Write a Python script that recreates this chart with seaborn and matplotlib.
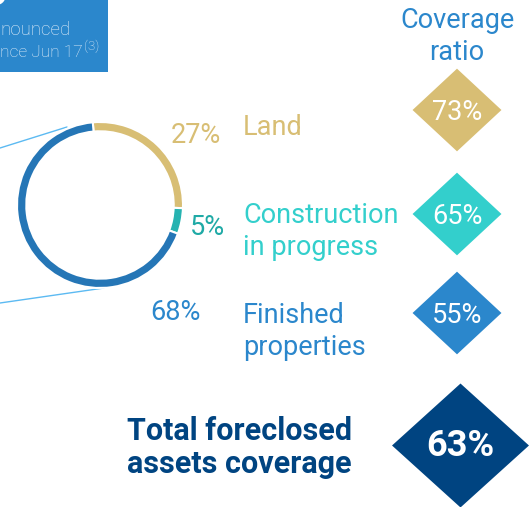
#%%
import numpy as np
import pandas as pd
import matplotlib
matplotlib.use("Agg")
import matplotlib.pyplot as plt
from matplotlib.patches import Rectangle
import seaborn as sns

sns.set_theme(style="white")
plt.rcParams['font.family'] = ['Roboto', 'DejaVu Sans']

#----------------------------------------
# dados
categories = ['Land', 'Construction\nin progress', 'Finished\nproperties']
shares = [27, 5, 68]          # % do total de ativos
coverage = [73, 65, 55]       # coverage ratio por tipo
total_label = ['Total foreclosed', 'assets coverage']
total_coverage = 63
header_lines = ['nounced', 'nce Jun 17']
header_note = '(3)'
coverage_title = ['Coverage', 'ratio']

ring_colors = ['#D8BE74', '#26B3B1', '#2576B6']
share_colors = ['#D8BE74', '#1FAAA6', '#2B87CC']
label_colors = ['#D8BE74', '#33CFCC', '#2B87CC']
blue = '#2B87CC'
navy = '#004481'

#----------------------------------------
# figura em coordenadas de pixel
W, H = 531, 507
fig = plt.figure(figsize=(W / 100, H / 100), dpi=100)
ax = fig.add_axes([0, 0, 1, 1])
ax.set_xlim(0, W)
ax.set_ylim(H, 0)
ax.axis('off')

# caixa azul no canto
ax.add_patch(Rectangle((0, 0), 108, 72, color=blue, lw=0))
ax.text(8, 5, '0', ha='right', va='baseline', color='white', fontsize=30, fontweight='bold')
ax.text(0, 35, header_lines[0], ha='left', va='baseline', color='#E6F0FA', fontsize=13.5, fontweight='light')
t2 = ax.text(0, 57, header_lines[1], ha='left', va='baseline', color='#E6F0FA', fontsize=12.5, fontweight='light')
fig.canvas.draw()
x_end = t2.get_window_extent().x1 + 1
ax.text(x_end, 50, header_note, ha='left', va='baseline', color='#E6F0FA', fontsize=9.5, fontweight='light')

# linhas de ligacao
ax.plot([0, 67], [148, 127], color='#5CBAF2', lw=1)
ax.plot([0, 104], [303, 288], color='#5CBAF2', lw=1)

#----------------------------------------
# donut
cx, cy, r = 100, 205, 83
axd = fig.add_axes([(cx - r) / W, (H - cy - r) / H, 2 * r / W, 2 * r / H])
axd.pie(shares, colors=ring_colors, startangle=95, counterclock=False,
        wedgeprops=dict(width=0.112, edgecolor='white', linewidth=1.5))
axd.set_xlim(-1, 1)
axd.set_ylim(-1, 1)
axd.axis('off')

share_pos = [(196, 143), (207, 235), (175, 320)]
for (x, y), s, c in zip(share_pos, shares, share_colors):
    ax.text(x, y, f'{s}%', ha='center', va='baseline', color=c, fontsize=19.5)

# rotulos das categorias
label_base = [135, 223, 323]
for y, lab, c in zip(label_base, categories, label_colors):
    for k, line in enumerate(lab.split('\n')):
        ax.text(243, y + 32 * k, line, ha='left', va='baseline', color=c, fontsize=19.5)

#----------------------------------------
# diamantes do coverage ratio
ax.text(457, 28, coverage_title[0], ha='center', va='baseline', color=blue, fontsize=19.5)
ax.text(457, 60, coverage_title[1], ha='center', va='baseline', color=blue, fontsize=19.5)

diamond = [(-1, 0), (0, 0.93), (1, 0), (0, -0.93), (-1, 0)]
df = pd.DataFrame({'cat': categories, 'coverage': coverage,
                   'x': [457] * 3, 'y': [110, 214, 313]})
sns.scatterplot(data=df, x='x', y='y', hue='cat', palette=label_colors, marker=diamond,
                s=64 ** 2, linewidth=0, legend=False, ax=ax)
for _, row in df.iterrows():
    ax.text(row['x'], row['y'] + 10, f"{row['coverage']}%", ha='center', va='baseline',
            color='white', fontsize=19.5)

# total
big = [(-1, 0), (0, 0.905), (1, 0), (0, -0.905), (-1, 0)]
sns.scatterplot(x=[460], y=[445], color=navy, marker=big, s=98.6 ** 2, linewidth=0,
                legend=False, ax=ax)
ax.text(460, 456, f'{total_coverage}%', ha='center', va='baseline', color='white',
        fontsize=26, fontweight='bold')
ax.text(352, 440, total_label[0], ha='right', va='baseline', color=navy, fontsize=22, fontweight='bold')
ax.text(352, 473, total_label[1], ha='right', va='baseline', color=navy, fontsize=22, fontweight='bold')

ax.set_xlim(0, W)
ax.set_ylim(H, 0)
ax.set_xlabel('')
ax.set_ylabel('')

fig.savefig('out.png', dpi=100)
